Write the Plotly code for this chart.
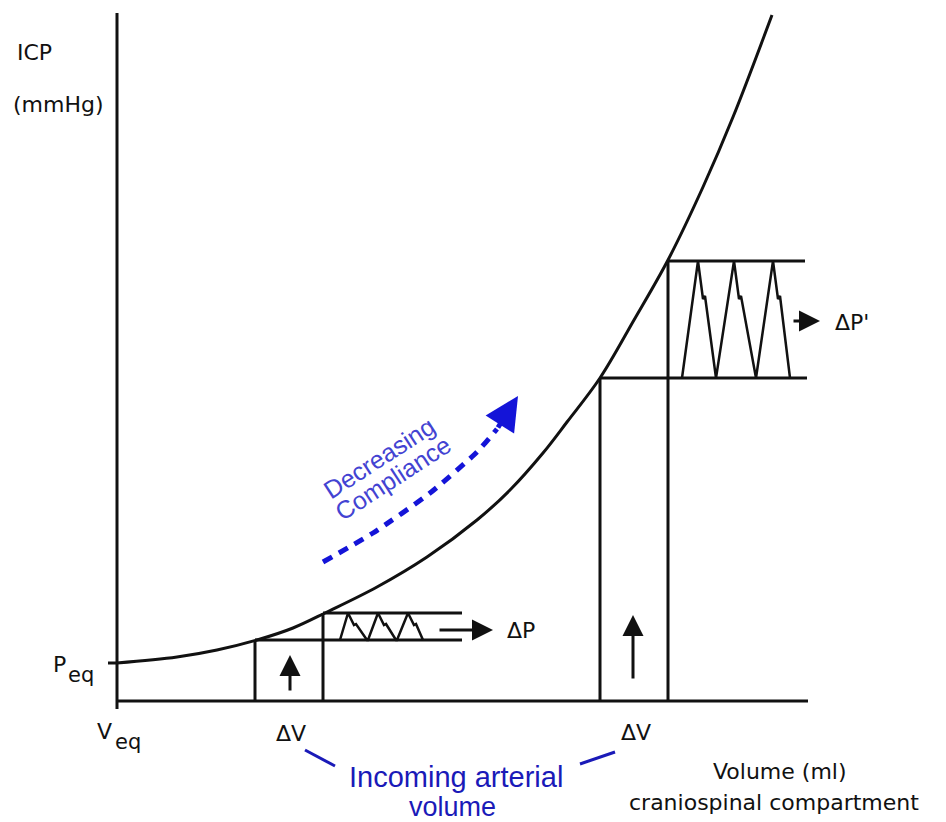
import plotly.graph_objects as go

# ---- data (volume V, pressure P in diagram units; origin = Veq / zero pressure) ----
curve_v = [0, 60, 100, 140, 176, 210, 260, 310, 360, 393, 426, 450, 483, 517, 551, 586, 616, 655]
curve_p = [38, 44, 51, 61, 73, 89, 114, 144, 181, 211, 248, 279, 323, 381, 441, 514, 584, 686]

axis_v_top = 688
axis_v_bottom = -8
baseline_end = 691
p_eq = 38

# small pulse (low volume) box
box1_v = [138, 206]
box1_p = [61, 88]
box1_h_end = 345
pulse1_v = [223, 231, 237, 239, 250, 251, 261, 267, 269, 279, 280, 291, 297, 299, 306]
pulse1_p = [61, 88, 76, 77, 61, 61, 88, 76, 77, 61, 61, 88, 76, 77, 61]

# large pulse (high volume) box
box2_v = [483, 551]
box2_p = [323, 440]
box2_h_end = [690, 688]
pulse2_v = [565, 581, 586, 588, 599, 617, 622, 624, 639, 656, 661, 663, 673]
pulse2_p = [323, 440, 402, 405, 323, 440, 402, 405, 323, 440, 402, 405, 323]

# arrows (tail -> head)
dp_arrow = dict(v0=321, v1=376, p=71)
dp2_arrow = dict(v0=675, v1=703, p=380)
up1_arrow = dict(v=173, p0=9, p1=46)
up2_arrow = dict(v=516, p0=21, p1=86)

compliance_v = [206, 256, 313, 360, 380]
compliance_p = [139, 168, 208, 249, 272]
compliance_tip = (401, 305)

BLACK = "#111111"
BLUE_TXT = "#1a1ab8"
BLUE_ARROW = "#1414d8"
BLUE_LIGHT = "#4343d2"

fig = go.Figure()

sx, sy = [], []
def seg(xs, ys):
    sx.extend(xs + [None]); sy.extend(ys + [None])

seg([0, 0], [axis_v_bottom, axis_v_top])
seg([0, baseline_end], [0, 0])
seg([-9, 0], [p_eq, p_eq])
seg([box1_v[0], box1_v[0]], [0, box1_p[0]])
seg([box1_v[1], box1_v[1]], [0, box1_p[1]])
seg([box1_v[0], box1_h_end], [box1_p[0], box1_p[0]])
seg([box1_v[1], box1_h_end], [box1_p[1], box1_p[1]])
seg([box2_v[0], box2_v[0]], [0, box2_p[0]])
seg([box2_v[1], box2_v[1]], [0, box2_p[1]])
seg([box2_v[0], box2_h_end[0]], [box2_p[0], box2_p[0]])
seg([box2_v[1], box2_h_end[1]], [box2_p[1], box2_p[1]])

fig.add_trace(go.Scatter(x=sx, y=sy, mode="lines",
                         line=dict(color=BLACK, width=3), hoverinfo="skip"))
fig.add_trace(go.Scatter(x=pulse1_v, y=pulse1_p, mode="lines",
                         line=dict(color=BLACK, width=2.5), hoverinfo="skip"))
fig.add_trace(go.Scatter(x=pulse2_v, y=pulse2_p, mode="lines",
                         line=dict(color=BLACK, width=2.5), hoverinfo="skip"))
fig.add_trace(go.Scatter(x=curve_v, y=curve_p, mode="lines",
                         line=dict(color=BLACK, width=3, shape="spline", smoothing=1.0),
                         hoverinfo="skip"))
fig.add_trace(go.Scatter(x=compliance_v, y=compliance_p, mode="lines",
                         line=dict(color=BLUE_ARROW, width=5, dash="10px,8px",
                                   shape="spline", smoothing=0.6), hoverinfo="skip"))

ann = []
def arrow(x0, y0, x1, y1, color=BLACK, width=3, size=1.4):
    ann.append(dict(x=x1, y=y1, ax=x0, ay=y0, xref="x", yref="y", axref="x", ayref="y",
                    text="", showarrow=True, arrowhead=2, arrowsize=size,
                    arrowwidth=width, arrowcolor=color, standoff=0, startstandoff=0))

arrow(dp_arrow["v0"], dp_arrow["p"], dp_arrow["v1"], dp_arrow["p"])
arrow(dp2_arrow["v0"], dp2_arrow["p"], dp2_arrow["v1"], dp2_arrow["p"])
arrow(up1_arrow["v"], up1_arrow["p0"], up1_arrow["v"], up1_arrow["p1"])
arrow(up2_arrow["v"], up2_arrow["p0"], up2_arrow["v"], up2_arrow["p1"])
arrow(compliance_v[-1], compliance_p[-1], compliance_tip[0], compliance_tip[1],
      color=BLUE_ARROW, width=5, size=1.35)

fig.add_trace(go.Scatter(x=[188, 218, None, 463, 498], y=[-49, -65, None, -63, -51],
                         mode="lines", line=dict(color=BLUE_TXT, width=3), hoverinfo="skip"))

def label(x, y, text, size=22, color=BLACK, family="DejaVu Sans", angle=0):
    ann.append(dict(x=x, y=y, xref="x", yref="y", text=text, showarrow=False,
                    font=dict(size=size, color=color, family=family),
                    textangle=angle, xanchor="center", yanchor="middle"))

label(-83, 649, "ICP")
label(-59, 597, "(mmHg)")
label(-58, 37, "P")
label(-36, 26, "eq", size=21)
label(-13, -30, "V")
label(11, -41, "eq", size=21)
label(174, -32, "ΔV")
label(519, -31, "ΔV")
label(404, 71, "ΔP")
label(735, 379, "ΔP'")
label(663, -70, "Volume (ml)")
label(657, -101, "craniospinal compartment")
label(339, -76, "Incoming arterial", size=29, color=BLUE_TXT, family="Liberation Sans")
label(335, -106, "volume", size=27, color=BLUE_TXT, family="Liberation Sans")
label(262, 243, "Decreasing", size=25, color=BLUE_LIGHT, family="Liberation Sans", angle=-33)
label(276, 223, "Compliance", size=25, color=BLUE_LIGHT, family="Liberation Sans", angle=-33)

fig.update_layout(
    width=946, height=822, margin=dict(l=0, r=0, t=0, b=0),
    paper_bgcolor="white", plot_bgcolor="white", showlegend=False,
    xaxis=dict(range=[-117, 829], visible=False, fixedrange=True),
    yaxis=dict(range=[-121, 701], visible=False, fixedrange=True),
    annotations=ann,
)
fig.write_html("out.html")
